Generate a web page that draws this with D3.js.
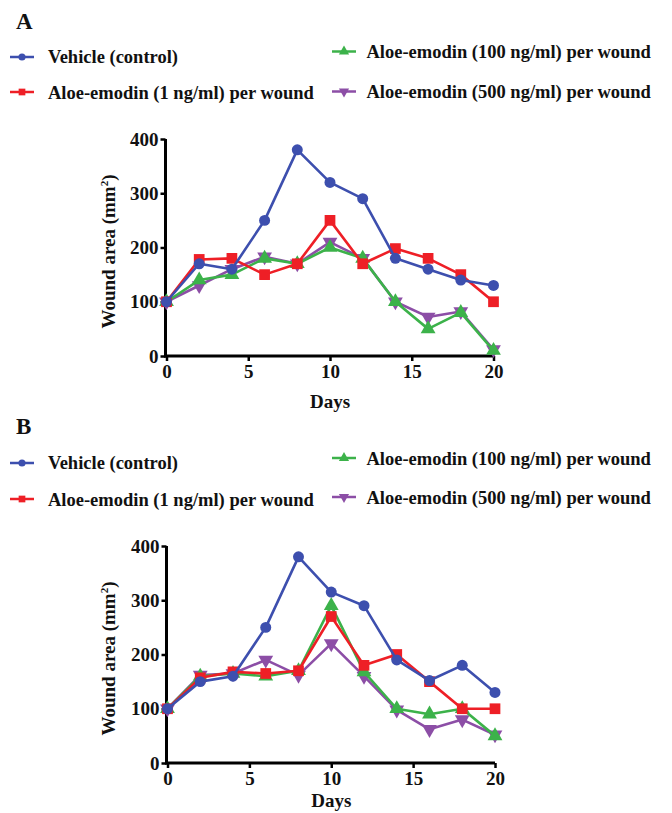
<!DOCTYPE html>
<html>
<head>
<meta charset="utf-8">
<script src="https://cdnjs.cloudflare.com/ajax/libs/d3/7.8.5/d3.min.js"></script>
<style>
  html, body { margin: 0; padding: 0; background: #fff; }
  svg { display: block; }
  text { font-family: "Liberation Serif", "Times New Roman", serif; font-weight: bold; fill: #111; }
</style>
</head>
<body>
<svg id="chart" width="672" height="813"></svg>
<script>
// ---- data ----
const days = [0, 2, 4, 6, 8, 10, 12, 14, 16, 18, 20];
const seriesNames = [
  "Vehicle (control)",
  "Aloe-emodin (1 ng/ml) per wound",
  "Aloe-emodin (100 ng/ml) per wound",
  "Aloe-emodin (500 ng/ml) per wound"
];
const yTicks = [0, 100, 200, 300, 400];
const xTicks = [0, 5, 10, 15, 20];
const panelLabels = ["A", "B"];

const panelA_vehicle = [100, 170, 160, 250, 380, 320, 290, 180, 160, 140, 130];
const panelA_ae1     = [100, 178, 180, 150, 170, 250, 170, 198, 180, 150, 100];
const panelA_ae100   = [100, 140, 150, 180, 170, 200, 180, 100, 50, 80, 10];
const panelA_ae500   = [100, 130, 160, 183, 170, 210, 180, 100, 72, 82, 12];

const panelB_vehicle = [100, 150, 160, 250, 380, 315, 290, 190, 152, 180, 130];
const panelB_ae1     = [100, 157, 168, 165, 170, 270, 180, 200, 150, 100, 100];
const panelB_ae100   = [100, 160, 165, 160, 170, 290, 168, 100, 90, 100, 50];
const panelB_ae500   = [100, 162, 165, 190, 162, 220, 160, 98, 62, 80, 52];

// ---- styles ----
const colors = ["#3d4fae", "#ee1f26", "#3cb24a", "#8c4ea6"];
const symbols = [d3.symbolCircle, d3.symbolSquare, d3.symbolTriangle, d3.symbolTriangle];
const symRot = [0, 0, 0, 180];
const symSize = [95, 115, 95, 95];
const legSize = [40, 45, 45, 45];

const svg = d3.select("#chart");

function drawPanel(cfg) {
  const g = svg.append("g");
  const x = d3.scaleLinear().domain([0, 20]).range([cfg.x0, cfg.x1]);
  const y = d3.scaleLinear().domain([0, 400]).range([cfg.y0, cfg.y1]);

  // panel letter
  g.append("text").attr("x", 16).attr("y", cfg.labelY)
    .style("font-size", "23px").text(cfg.label);

  // legend
  const legPos = [
    { lx: 10, tx: 48, my: cfg.legY[0], ty: cfg.legY[0] + 6 },
    { lx: 10, tx: 48, my: cfg.legY[1], ty: cfg.legY[1] + 6.5 },
    { lx: 332, tx: 366.5, my: cfg.legY[2], ty: cfg.legY[2] + 6.5 },
    { lx: 332, tx: 366.5, my: cfg.legY[3], ty: cfg.legY[3] + 6.5 }
  ];
  seriesNames.forEach((name, i) => {
    const p = legPos[i];
    const lg = g.append("g");
    lg.append("line").attr("x1", p.lx).attr("x2", p.lx + 24)
      .attr("y1", p.my).attr("y2", p.my)
      .attr("stroke", colors[i]).attr("stroke-width", 2.5);
    lg.append("path").attr("d", d3.symbol().type(symbols[i]).size(legSize[i])())
      .attr("transform", `translate(${p.lx + 12},${p.my}) rotate(${symRot[i]})`)
      .attr("fill", colors[i]);
    lg.append("text").attr("x", p.tx).attr("y", p.ty)
      .style("font-size", "18.5px").text(name);
  });

  // axes
  const yAxis = d3.axisLeft(y).tickValues(yTicks).tickSize(5).tickSizeOuter(0).tickPadding(2);
  const xAxis = d3.axisBottom(x).tickValues(xTicks).tickSize(5).tickSizeOuter(0).tickPadding(4);
  const ya = g.append("g").attr("transform", `translate(${cfg.x0 - 1},0)`).call(yAxis);
  const xa = g.append("g").attr("transform", `translate(0,${cfg.y0})`).call(xAxis);
  [ya, xa].forEach(a => {
    a.attr("font-family", null).attr("font-size", null);
    a.select(".domain").attr("stroke", "#000").attr("stroke-width", 3);
    a.selectAll(".tick line").attr("stroke", "#000").attr("stroke-width", 2.5);
    a.selectAll(".tick text").style("font-size", "19px")
      .style("font-family", "'Liberation Serif', 'Times New Roman', serif")
      .style("font-weight", "bold").attr("fill", "#111");
  });
  xa.select(".domain").attr("d", `M${cfg.x0 - 2.5},0H${cfg.x1}`);
  ya.select(".domain").attr("d", `M0,${cfg.y0 + 1.5}V${cfg.y1}`);

  // axis titles
  g.append("text").attr("x", (cfg.x0 + cfg.x1) / 2).attr("y", cfg.daysY)
    .attr("text-anchor", "middle").style("font-size", "19px").text("Days");
  const yt = g.append("text")
    .attr("transform", `translate(115,${(cfg.y0 + cfg.y1) / 2 + 4}) rotate(-90)`)
    .attr("text-anchor", "middle").style("font-size", "19px");
  yt.append("tspan").text("Wound area (mm");
  yt.append("tspan").attr("dy", -7).style("font-size", "11px").text("2");
  yt.append("tspan").attr("dy", 7).text(")");

  // series (draw last series first so vehicle is on top)
  const line = d3.line().x((d, i) => x(days[i])).y(d => y(d));
  for (let i = cfg.series.length - 1; i >= 0; i--) {
    const vals = cfg.series[i];
    const sg = g.append("g");
    sg.append("path").datum(vals).attr("d", line)
      .attr("fill", "none").attr("stroke", colors[i]).attr("stroke-width", 2.6)
      .attr("stroke-linejoin", "round");
    sg.selectAll("path.m").data(vals).enter().append("path").attr("class", "m")
      .attr("d", d3.symbol().type(symbols[i]).size(symSize[i])())
      .attr("transform", (d, j) => `translate(${x(days[j])},${y(d)}) rotate(${symRot[i]})`)
      .attr("fill", colors[i]);
  }
}

drawPanel({
  label: panelLabels[0], labelY: 29,
  legY: [57, 92, 51.5, 91.5],
  x0: 166.5, x1: 493.5, y0: 356, y1: 139, daysY: 408,
  series: [panelA_vehicle, panelA_ae1, panelA_ae100, panelA_ae500]
});
drawPanel({
  label: panelLabels[1], labelY: 434,
  legY: [463, 499, 458, 497],
  x0: 167.5, x1: 495, y0: 763, y1: 546, daysY: 807,
  series: [panelB_vehicle, panelB_ae1, panelB_ae100, panelB_ae500]
});
</script>
</body>
</html>
